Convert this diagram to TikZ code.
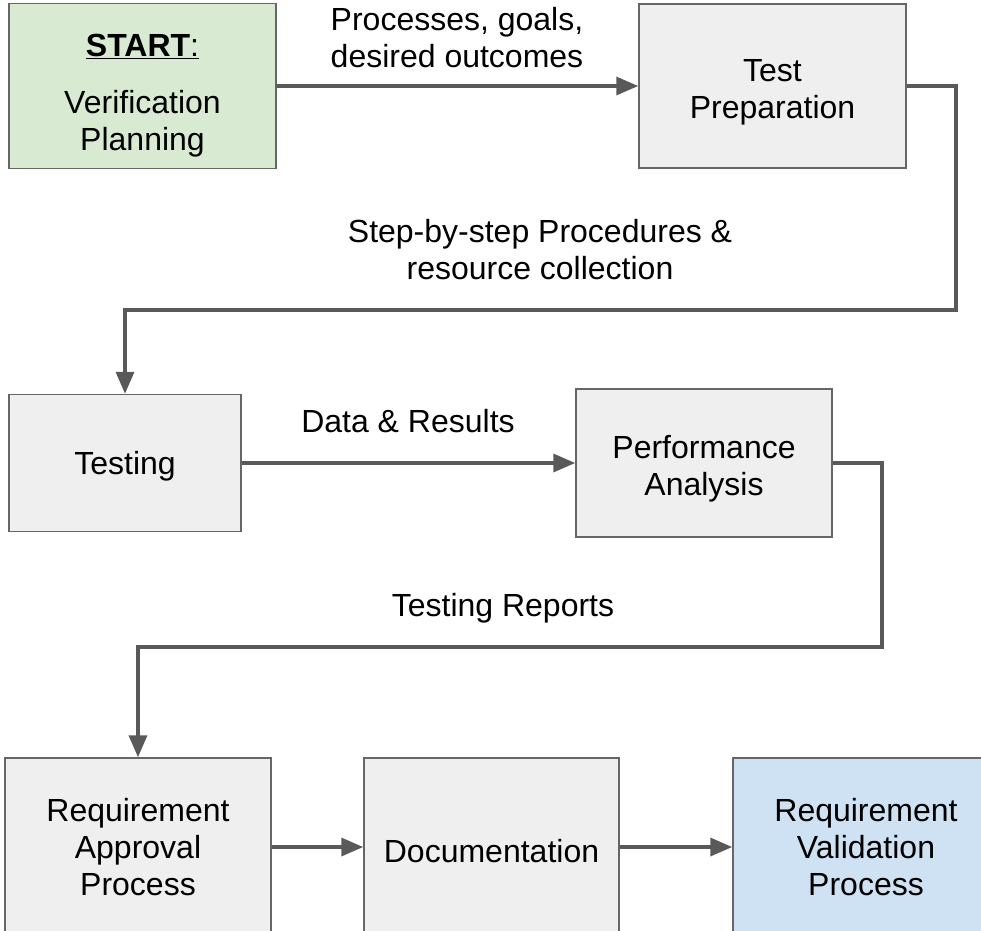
\documentclass[tikz,border=0pt]{standalone}
\usepackage{fontspec}
\setmainfont{Liberation Sans}
\usepackage{tikz}
\usetikzlibrary{arrows.meta,positioning}
\usepackage{xcolor}
\definecolor{vpgreen}{HTML}{D9EAD3}
\definecolor{vpgrey}{HTML}{EFEFEF}
\definecolor{vpblue}{HTML}{CFE2F3}
\definecolor{vpline}{HTML}{595959}
\definecolor{vpborder}{HTML}{666666}
\tikzstyle{process} = [rectangle, draw=vpborder, fill=vpgrey, line width=1.5pt, align=center, inner sep=0pt, font=\fontsize{32}{37}\selectfont]
\tikzstyle{arrow} = [line width=3.5pt, color=vpline, -{Triangle[length=22pt,width=18pt]}]
\tikzstyle{edgetext} = [align=center, inner sep=0pt, font=\fontsize{32}{37}\selectfont]

\begin{document}
\begin{tikzpicture}[x=1pt, y=-1pt]
\useasboundingbox (0,0) rectangle (981,930);

% Planning and preparation
\node[process, fill=vpgreen, minimum width=267pt, minimum height=165pt] (start) at (142.5,86) {\rule{0pt}{42pt}\underline{\textbf{START}:}\\[20pt]Verification\\Planning};
\node[process, minimum width=267pt, minimum height=164pt] (prep) at (772.5,86) {\rule{0pt}{34pt}Test\\Preparation};
\draw[arrow] (start) -- (prep);
\node[edgetext] (goals) at (457,38) {Processes, goals,\\desired outcomes};

% Testing and analysis
\node[process, minimum width=232pt, minimum height=137pt] (testing) at (125,463) {\rule{0pt}{29pt}Testing};
\node[process, minimum width=256pt, minimum height=148pt] (analysis) at (704,463) {\rule{0pt}{34pt}Performance\\Analysis};
\coordinate (bendA) at (956,310);
\draw[arrow] (prep.east) -| (bendA) -| (testing.north);
\node[edgetext] (procedures) at (540,250) {Step-by-step Procedures \&\\resource collection};
\draw[arrow] (testing) -- (analysis);
\node[edgetext] (results) at (408,421) {Data \& Results};

% Approval, documentation, validation
\node[process, minimum width=266pt, minimum height=178pt] (approval) at (138,847) {Requirement\\Approval\\Process};
\node[process, minimum width=255pt, minimum height=178pt] (docs) at (491.5,847) {\rule{0pt}{31pt}Documentation};
\node[process, fill=vpblue, minimum width=266pt, minimum height=178pt] (validation) at (866,847) {Requirement\\Validation\\Process};
\coordinate (bendB) at (882,647);
\draw[arrow] (analysis.east) -| (bendB) -| (approval.north);
\node[edgetext] (reports) at (503,608) {Testing Reports};
\draw[arrow] (approval) -- (docs);
\draw[arrow] (docs) -- (validation);
\end{tikzpicture}
\end{document}
